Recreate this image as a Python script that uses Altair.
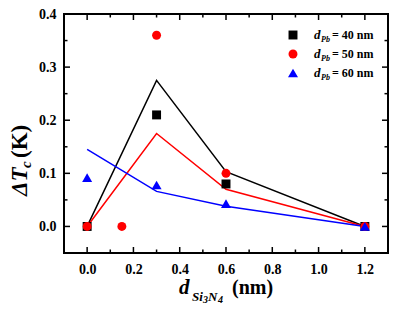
import altair as alt
import pandas as pd

# ---- data ----
x40 = [0.0, 0.3, 0.6, 1.2]
y40 = [0.0, 0.21, 0.08, 0.0]
x50 = [0.0, 0.15, 0.3, 0.6, 1.2]
y50 = [0.0, 0.0, 0.36, 0.10, 0.0]
x60 = [0.0, 0.3, 0.6, 1.2]
y60 = [0.092, 0.078, 0.043, 0.0]

fit_x = [0.0, 0.3, 0.6, 1.2]
fit40 = [0.0, 0.275, 0.103, 0.0]
fit50 = [0.0, 0.175, 0.070, 0.0]
fit60 = [0.145, 0.066, 0.038, 0.0]

x_major = [0.0, 0.2, 0.4, 0.6, 0.8, 1.0, 1.2]
x_minor = [0.1, 0.3, 0.5, 0.7, 0.9, 1.1]
y_major = [0.0, 0.1, 0.2, 0.3, 0.4]
y_minor = [0.05, 0.15, 0.25, 0.35]

W, H = 324, 239
FONT = "Liberation Serif"

xs = alt.Scale(domain=[-0.1, 1.3], nice=False, zero=False)
ys = alt.Scale(domain=[-0.05, 0.4], nice=False, zero=False)

xaxis = alt.Axis(values=x_major, format=".1f", ticks=False, domain=False, grid=False,
                 title=None, labelFont=FONT, labelFontWeight="bold", labelFontSize=14,
                 labelPadding=9, labelFlush=False, labelColor="black")
yaxis = alt.Axis(values=y_major, format=".1f", ticks=False, domain=False, grid=False,
                 title=None, labelFont=FONT, labelFontWeight="bold", labelFontSize=14,
                 labelPadding=8, labelFlush=False, labelColor="black")


def X():
    return alt.X("x:Q", scale=xs, axis=xaxis)


def Y():
    return alt.Y("y:Q", scale=ys, axis=yaxis)


def pts(xv, yv, shape, color, size):
    df = pd.DataFrame({"x": xv, "y": yv})
    return alt.Chart(df).mark_point(shape=shape, filled=True, color=color, size=size, opacity=1).encode(
        x=X(), y=Y())


def line(yv, color):
    df = pd.DataFrame({"x": fit_x, "y": yv})
    return alt.Chart(df).mark_line(color=color, strokeWidth=1.5).encode(x=X(), y=Y())


def xticks(vals, length):
    df = pd.DataFrame({"x": vals})
    b = alt.Chart(df).mark_rule(color="black", strokeWidth=1.5)
    return [
        b.encode(x=X(), y=alt.value(H), y2=alt.value(H - length)),
        b.encode(x=X(), y=alt.value(0), y2=alt.value(length)),
    ]


def yticks(vals, length):
    df = pd.DataFrame({"y": vals})
    b = alt.Chart(df).mark_rule(color="black", strokeWidth=1.5)
    return [
        b.encode(y=Y(), x=alt.value(0), x2=alt.value(length)),
        b.encode(y=Y(), x=alt.value(W), x2=alt.value(W - length)),
    ]


def txt(s, x, y, size, style="normal", angle=0, align="left", baseline="alphabetic", color="black"):
    return alt.Chart(pd.DataFrame({"t": [s]})).mark_text(
        font=FONT, fontWeight="bold", fontStyle=style, fontSize=size, angle=angle,
        align=align, baseline=baseline, color=color).encode(
        text="t:N", x=alt.value(x), y=alt.value(y))


frame = alt.Chart(pd.DataFrame({"a": [0]})).mark_rect(fill=None, fillOpacity=0, stroke="black", strokeWidth=2).encode(
    x=alt.value(0), x2=alt.value(W), y=alt.value(0), y2=alt.value(H))

layers = []
layers += xticks(x_major, 6) + xticks(x_minor, 3.5) + yticks(y_major, 6) + yticks(y_minor, 3.5)
layers += [line(fit40, "black"), line(fit50, "#ff0000"), line(fit60, "#0000ff")]
layers += [pts(x40, y40, "square", "black", 80),
           pts(x50, y50, "circle", "#ff0000", 80),
           pts(x60, y60, "triangle-up", "#0000ff", 100)]
layers.append(frame)

# legend (custom, for subscripts)
leg_labels = ["= 40 nm", "= 50 nm", "= 60 nm"]
leg_shapes = ["square", "circle", "triangle-up"]
leg_colors = ["black", "#ff0000", "#0000ff"]
leg_sizes = [80, 80, 100]
for i in range(3):
    cy = 21 + 19 * i
    layers.append(alt.Chart(pd.DataFrame({"a": [0]})).mark_point(
        shape=leg_shapes[i], filled=True, color=leg_colors[i], size=leg_sizes[i], opacity=1).encode(
        x=alt.value(229), y=alt.value(cy)))
    bl = cy + 4
    layers.append(txt("d", 250, bl, 13, "italic"))
    layers.append(txt("Pb", 257, bl + 3, 8, "italic"))
    layers.append(txt(leg_labels[i], 268, bl, 12))

# x title
ty = 280
layers += [
    txt("d", 115, ty, 21, "italic"),
    txt("Si", 128, ty + 7, 13, "italic"),
    txt("3", 139, ty + 9, 10, "italic"),
    txt("N", 144, ty + 7, 13, "italic"),
    txt("4", 154, ty + 9, 10, "italic"),
    txt("(nm)", 168, ty, 20),
]
# y title (rotated)
layers += [
    txt("\u0394T", -37, 182, 23, "italic", angle=270),
    txt("c", -33, 154, 15, "italic", angle=270),
    txt("(K)", -37, 144, 23, "normal", angle=270),
]

chart = alt.layer(*layers).properties(
    width=W, height=H,
    autosize=alt.AutoSizeParams(type="none"),
    padding={"left": 56, "top": 6, "right": 1, "bottom": 51},
).configure_view(stroke=None).configure(background="white")

chart.save("out.html", embed_options={"renderer": "svg", "actions": False})
